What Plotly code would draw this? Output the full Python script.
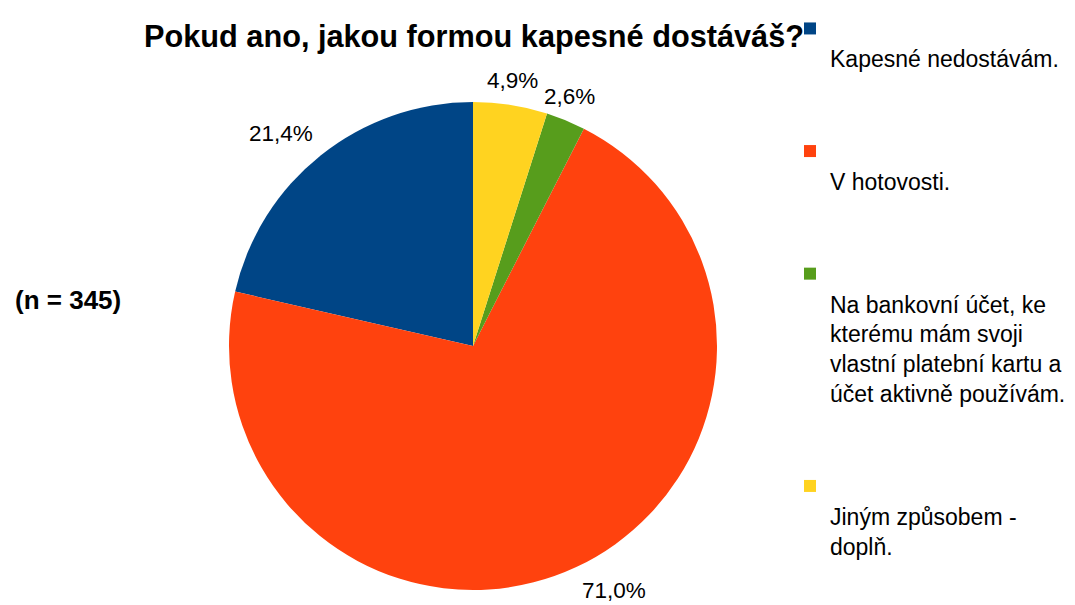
import math
import plotly.graph_objects as go

title_text = "Pokud ano, jakou formou kapesné dostáváš?"
note_text = "(n = 345)"
categories = [
    "Kapesné nedostávám.",
    "V hotovosti.",
    "Na bankovní účet, ke<br>kterému mám svoji<br>vlastní platební kartu a<br>účet aktivně používám.",
    "Jiným způsobem -<br>doplň.",
]
percent_values = [21.4, 71.0, 2.6, 4.9]
colors = ["#004586", "#ff420e", "#579d1c", "#ffd320"]

W, H = 1075, 605
FONT = "Liberation Sans, Arial, sans-serif"

# pie geometry (pixels)
PIE_L, PIE_R, PIE_T, PIE_B = 229, 717, 102, 590
cx, cy = (PIE_L + PIE_R) / 2, (PIE_T + PIE_B) / 2
radius = (PIE_R - PIE_L) / 2

# legend labels: blank first line so the swatch sits above the text
legend_labels = [
    "<br>" + categories[0] + "<br> <br> ",
    "<br>" + categories[1] + "<br> <br> ",
    "<br>" + categories[2] + "<br> <br> ",
    "<br>" + categories[3],
]

total = sum(percent_values)
# first slice should begin at 12 o'clock and run counter-clockwise
first_angle = 360.0 * percent_values[0] / total

fig = go.Figure(
    go.Pie(
        labels=legend_labels,
        values=percent_values,
        sort=False,
        direction="counterclockwise",
        rotation=-first_angle,
        marker=dict(colors=colors, line=dict(width=0)),
        textinfo="none",
        hoverinfo="label+value",
        domain=dict(x=[PIE_L / W, PIE_R / W], y=[1 - PIE_B / H, 1 - PIE_T / H]),
    )
)

# percentage labels placed just outside each slice's mid-angle
annotations = []
acc = 0.0
for v in percent_values:
    mid = (acc + v / 2) / total * 2 * math.pi  # counter-clockwise from 12 o'clock
    acc += v
    dx, dy = -math.sin(mid), -math.cos(mid)
    d = radius + 11
    px, py = cx + dx * d, cy + dy * d
    xa = "left" if dx > 0.4 else ("right" if dx < -0.4 else "center")
    ya = "bottom" if dy < -0.4 else ("top" if dy > 0.4 else "middle")
    annotations.append(
        dict(
            text=f"{v:.1f}".replace(".", ",") + "%",
            x=px / W,
            y=1 - py / H,
            xref="paper",
            yref="paper",
            xanchor=xa,
            yanchor=ya,
            showarrow=False,
            borderpad=0,
            font=dict(family=FONT, size=22.5, color="#000000"),
        )
    )

annotations.append(
    dict(
        text="<b>" + note_text + "</b>",
        x=13 / W,
        xref="paper",
        xanchor="left",
        y=1 - 300 / H,
        yref="paper",
        yanchor="middle",
        showarrow=False,
        font=dict(family=FONT, size=26, color="#000000"),
    )
)

fig.update_layout(
    width=W,
    height=H,
    paper_bgcolor="#ffffff",
    plot_bgcolor="#ffffff",
    margin=dict(l=0, r=0, t=0, b=0),
    font=dict(family=FONT, color="#000000"),
    title=dict(
        text="<b>" + title_text + "</b>",
        font=dict(family=FONT, size=30.7, color="#000000"),
        x=474 / W,
        xanchor="center",
        xref="paper",
        y=1 - 36 / H,
        yref="container",
        yanchor="middle",
    ),
    showlegend=True,
    legend=dict(
        x=790 / W,
        xanchor="left",
        y=1 - 7 / H,
        yanchor="top",
        valign="top",
        font=dict(family=FONT, size=23, color="#000000"),
        bgcolor="rgba(0,0,0,0)",
        tracegroupgap=0,
    ),
    annotations=annotations,
)

fig.write_html(
    "out.html",
    config={"displayModeBar": False},
    post_script="document.body.style.margin='0';document.body.style.overflow='hidden';",
)
